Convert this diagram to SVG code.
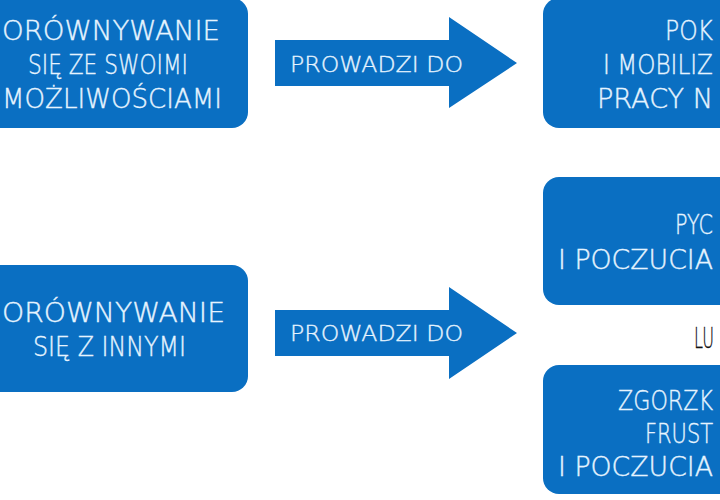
<svg xmlns="http://www.w3.org/2000/svg" width="720" height="500" viewBox="0 0 720 500">
<style>
.box{fill:#0a6fc2;}
.arrow{fill:#0a6fc2;}
.t{font-family:"DejaVu Sans","Liberation Sans",sans-serif;font-size:27px;font-weight:200;fill:#e6f4ff;stroke:#e6f4ff;stroke-width:0.4;}
.a{font-family:"DejaVu Sans","Liberation Sans",sans-serif;font-size:22px;font-weight:200;fill:#e6f4ff;stroke:#e6f4ff;stroke-width:0.35;}
.lu{font-family:"DejaVu Sans","Liberation Sans",sans-serif;font-size:29px;font-weight:200;fill:#111;stroke:#111;stroke-width:0.3;}
</style>
<rect width="720" height="500" fill="#ffffff"/>
<g id="node-compare-self">
<rect class="box" x="-40" y="-2" width="288" height="130" rx="16"/>
<text class="t" x="2" y="40" textLength="218" lengthAdjust="spacingAndGlyphs">ORÓWNYWANIE</text>
<text class="t" x="28" y="74" textLength="160" lengthAdjust="spacingAndGlyphs">SIĘ ZE SWOIMI</text>
<text class="t" x="2" y="108" textLength="220" lengthAdjust="spacingAndGlyphs">MOŻLIWOŚCIAMI</text>
</g>
<g id="node-compare-others">
<rect class="box" x="-40" y="265" width="288" height="127" rx="16"/>
<text class="t" x="2" y="322" textLength="223" lengthAdjust="spacingAndGlyphs">ORÓWNYWANIE</text>
<text class="t" x="33" y="356" textLength="153" lengthAdjust="spacingAndGlyphs">SIĘ Z INNYMI</text>
</g>
<g id="node-pokora">
<rect class="box" x="543" y="-2" width="220" height="130" rx="16"/>
<text class="t" x="665" y="40" textLength="48" lengthAdjust="spacingAndGlyphs">POK</text>
<text class="t" x="603" y="74" textLength="110" lengthAdjust="spacingAndGlyphs">I MOBILIZ</text>
<text class="t" x="597" y="108" textLength="116" lengthAdjust="spacingAndGlyphs">PRACY N</text>
</g>
<g id="node-pycha">
<rect class="box" x="543" y="177" width="220" height="128" rx="16"/>
<text class="t" x="675" y="234" textLength="38" lengthAdjust="spacingAndGlyphs">PYC</text>
<text class="t" x="558" y="269" textLength="155" lengthAdjust="spacingAndGlyphs">I POCZUCIA</text>
</g>
<text class="lu" x="694" y="348" textLength="20" lengthAdjust="spacingAndGlyphs">LU</text>
<g id="node-zgorzknienie">
<rect class="box" x="543" y="365" width="220" height="129" rx="16"/>
<text class="t" x="618" y="410" textLength="95" lengthAdjust="spacingAndGlyphs">ZGORZK</text>
<text class="t" x="645" y="443" textLength="68" lengthAdjust="spacingAndGlyphs">FRUST</text>
<text class="t" x="558" y="476" textLength="155" lengthAdjust="spacingAndGlyphs">I POCZUCIA</text>
</g>
<g id="connectors">
<g id="arrow-top">
<polygon class="arrow" points="275,40 449,40 449,17 517,63 449,108 449,86 275,86"/>
<text class="a" x="290" y="72" textLength="173" lengthAdjust="spacingAndGlyphs">PROWADZI DO</text>
</g>
<g id="arrow-bottom">
<polygon class="arrow" points="275,310 449,310 449,287 517,333 449,379 449,356 275,356"/>
<text class="a" x="290" y="341" textLength="173" lengthAdjust="spacingAndGlyphs">PROWADZI DO</text>
</g>
</g>
</svg>
